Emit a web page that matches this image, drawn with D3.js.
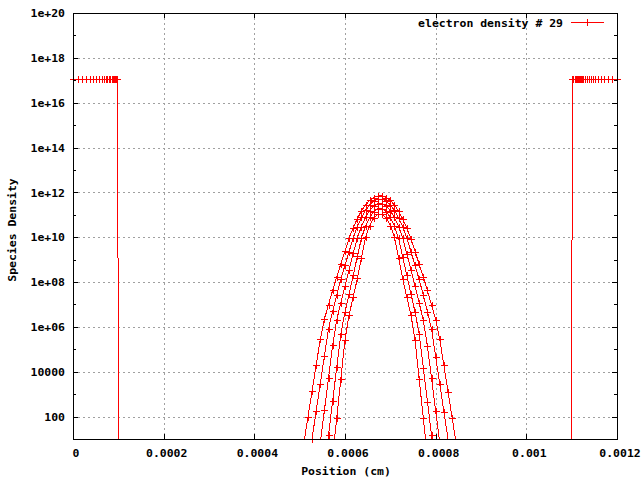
<!DOCTYPE html>
<html><head><meta charset="utf-8">
<script src="https://cdn.jsdelivr.net/npm/d3@7"></script>
<style>
html,body{margin:0;padding:0;background:#fff;}
svg{display:block;}
text{font-family:"DejaVu Sans Mono",monospace;font-weight:bold;font-size:10px;fill:#000;}
</style></head><body>
<svg id="chart" width="642" height="479"></svg>
<script>
// ---------------- data ----------------
const seriesName = "electron density # 29";
const xTicks = [0, 0.0002, 0.0004, 0.0006, 0.0008, 0.001, 0.0012];
const xTickLabels = ["0", "0.0002", "0.0004", "0.0006", "0.0008", "0.001", "0.0012"];
const yTicks = [1e2, 1e4, 1e6, 1e8, 1e10, 1e12, 1e14, 1e16, 1e18, 1e20];
const yTickLabels = ["100", "10000", "1e+06", "1e+08", "1e+10", "1e+12", "1e+14", "1e+16", "1e+18", "1e+20"];
const yMinorTicks = [1e3, 1e5, 1e7, 1e9, 1e11, 1e13, 1e15, 1e17, 1e19];

// left electrode region
const leftX = [0, 1.17e-5, 1.99e-5, 2.87e-5, 3.68e-5, 4.48e-5, 5.14e-5, 5.74e-5, 6.33e-5, 6.77e-5,
  7.21e-5, 7.57e-5, 7.94e-5, 8.23e-5, 8.54e-5, 8.76e-5, 8.98e-5, 9.15e-5, 9.31e-5, 9.44e-5,
  9.55e-5, 9.62e-5, 9.68e-5, 9.73e-5, 9.77e-5, 1.05e-4];
const leftV = [1.1e17, 1.1e17, 1.1e17, 1.1e17, 1.1e17, 1.1e17, 1.1e17, 1.1e17, 1.1e17, 1.1e17,
  1.1e17, 1.1e17, 1.1e17, 1.1e17, 1.1e17, 1.1e17, 1.1e17, 1.1e17, 1.1e17, 1.1e17,
  1.1e17, 1.1e17, 1.1e17, 1.1e17, 1.1e17, 1e-20];

// right electrode region
const rightX = [1.0982e-3, 1.1014e-3, 1.1040e-3, 1.1063e-3, 1.1085e-3, 1.1107e-3, 1.1129e-3, 1.1151e-3,
  1.1173e-3, 1.1195e-3, 1.1222e-3, 1.1257e-3, 1.1301e-3, 1.1338e-3, 1.1376e-3, 1.1420e-3,
  1.1464e-3, 1.1515e-3, 1.1581e-3, 1.1647e-3, 1.1720e-3, 1.1808e-3, 1.1896e-3, 1.2000e-3];
const rightV = [1e-20, 1.1e17, 1.1e17, 1.1e17, 1.1e17, 1.1e17, 1.1e17, 1.1e17,
  1.1e17, 1.1e17, 1.1e17, 1.1e17, 1.1e17, 1.1e17, 1.1e17, 1.1e17,
  1.1e17, 1.1e17, 1.1e17, 1.1e17, 1.1e17, 1.1e17, 1.1e17, 1.1e17];

// central mesh and the electron swarm profiles
const meshX = [5.0000e-4, 5.0909e-4, 5.1818e-4, 5.2727e-4, 5.3636e-4, 5.4545e-4, 5.5455e-4, 5.6364e-4,
  5.7273e-4, 5.8182e-4, 5.9091e-4, 6.0000e-4, 6.0909e-4, 6.1818e-4, 6.2727e-4, 6.3636e-4,
  6.4545e-4, 6.5455e-4, 6.6364e-4, 6.7273e-4, 6.8182e-4, 6.9091e-4, 7.0000e-4, 7.0909e-4,
  7.1818e-4, 7.2727e-4, 7.3636e-4, 7.4545e-4, 7.5455e-4, 7.6364e-4, 7.7273e-4, 7.8182e-4,
  7.9091e-4, 8.0000e-4, 8.0909e-4, 8.1818e-4, 8.2727e-4, 8.3636e-4, 8.4545e-4, 8.5455e-4];
const densityA = [0.44, 6.3, 91, 1.35e3, 1.95e4, 2.8e5, 2.2e6, 9.8e6, 4.3e7, 1.7e8, 6.5e8, 2.4e9,
  8.9e9, 2.7e10, 6.8e10, 1.5e11, 2.75e11, 4.4e11, 5.9e11, 6.9e11, 6.9e11, 5.9e11, 4.4e11, 2.75e11,
  1.45e11, 6.6e10, 2.6e10, 8.7e9, 2.3e9, 6.3e8, 1.7e8, 4.2e7, 9.5e6, 2.1e6, 2.75e5, 1.9e4, 1.3e3,
  89, 6.0, 0.42];
const densityB = [null, null, 0.60, 10.2, 174, 2.9e3, 4.9e4, 8.3e5, 4.9e6, 2.6e7, 1.35e8, 5.6e8,
  2.3e9, 9.5e9, 3.0e10, 7.6e10, 1.6e11, 2.8e11, 4.1e11, 4.9e11, 4.9e11, 4.1e11, 2.75e11, 1.6e11,
  7.4e10, 3.0e10, 9.3e9, 2.3e9, 5.5e8, 1.3e8, 2.6e7, 4.8e6, 7.9e5, 4.7e4, 2.75e3, 166, 9.8,
  0.58, null, null];
const densityC = [null, null, null, null, 0.25, 6.8, 190, 5.4e3, 1.5e5, 2.1e6, 1.2e7, 6.9e7,
  3.6e8, 1.9e9, 9.5e9, 3.0e10, 7.8e10, 1.55e11, 2.45e11, 3.1e11, 3.1e11, 2.45e11, 1.5e11, 7.6e10,
  3.0e10, 9.3e9, 1.8e9, 3.5e8, 6.8e7, 1.2e7, 2.0e6, 1.4e5, 5.0e3, 182, 6.5, 0.23,
  null, null, null, null];
const densityD = [null, null, null, null, null, null, 0.48, 15.5, 490, 1.6e4, 5.0e5, 4.6e6,
  3.0e7, 2.0e8, 1.4e9, 9.3e9, 3.2e10, 7.8e10, 1.4e11, 1.9e11, 1.9e11, 1.4e11, 7.8e10, 3.1e10,
  8.9e9, 1.35e9, 2.0e8, 3.0e7, 4.5e6, 4.8e5, 1.5e4, 470, 15, 0.46,
  null, null, null, null, null, null];
const densityE = [null, null, null, null, null, null, null, null, 1.66, 89, 4.9e3, 2.7e5,
  3.5e6, 2.2e7, 1.45e8, 1.2e9, 1.05e10, 3.3e10, 7.2e10, 1.07e11, 1.07e11, 7.2e10, 3.3e10, 1.0e10,
  1.2e9, 1.4e8, 2.1e7, 3.4e6, 2.6e5, 4.7e3, 85, 1.55,
  null, null, null, null, null, null, null, null];

// ---------------- drawing ----------------
const W = 642, H = 479;
const M = {left: 73, right: 617, top: 13, bottom: 439};
const RED = "#ff0000";
const x = d3.scaleLinear().domain([0, 0.0012]).range([M.left, M.right]);
const y = d3.scaleLog().domain([10, 1e20]).range([M.bottom, M.top]);

const svg = d3.select("#chart");
svg.append("rect").attr("width", W).attr("height", H).attr("fill", "#fff");
svg.append("defs").append("clipPath").attr("id", "plotclip")
  .append("rect").attr("x", M.left).attr("y", M.top)
  .attr("width", M.right - M.left).attr("height", M.bottom - M.top);

// grid
const grid = svg.append("g").attr("stroke", "#a0a0a0").attr("stroke-width", 1)
  .attr("stroke-dasharray", "2,3").attr("shape-rendering", "crispEdges");
grid.selectAll("line.gx").data(xTicks.filter(v => v > 0 && v < 0.0012)).enter().append("line")
  .attr("x1", d => Math.round(x(d)) + 0.5).attr("x2", d => Math.round(x(d)) + 0.5)
  .attr("y1", M.top).attr("y2", M.bottom);
grid.selectAll("line.gy").data(yTicks.filter(v => v < 1e20)).enter().append("line")
  .attr("y1", d => Math.round(y(d)) + 0.5).attr("y2", d => Math.round(y(d)) + 0.5)
  .attr("x1", M.left).attr("x2", M.right);

// series
const series = [
  {xs: leftX, vs: leftV},
  {xs: rightX, vs: rightV},
  {xs: meshX, vs: densityA},
  {xs: meshX, vs: densityB},
  {xs: meshX, vs: densityC},
  {xs: meshX, vs: densityD},
  {xs: meshX, vs: densityE}
].map(s => s.xs.map((xv, i) => ({x: xv, v: s.vs[i]})).filter(p => p.v != null));

const line = d3.line().x(p => x(p.x)).y(p => y(p.v));
const lines = svg.append("g").attr("clip-path", "url(#plotclip)");
lines.selectAll("path").data(series).enter().append("path")
  .attr("d", line).attr("fill", "none").attr("stroke", RED).attr("stroke-width", 1)
  .attr("shape-rendering", "crispEdges");

const plusPath = "M-3,0.5H4M0.5,-3V4";
const marks = svg.append("g").attr("shape-rendering", "crispEdges");
series.forEach(pts => {
  marks.append("g").selectAll("path")
    .data(pts.filter(p => p.v >= 10 && p.v <= 1e20)).enter().append("path")
    .attr("d", plusPath)
    .attr("transform", p => `translate(${Math.round(x(p.x)) - 0.5},${Math.round(y(p.v)) - 0.5})`)
    .attr("fill", "none").attr("stroke", RED).attr("stroke-width", 1);
});

// border
svg.append("rect").attr("x", M.left + 0.5).attr("y", M.top + 0.5)
  .attr("width", M.right - M.left).attr("height", M.bottom - M.top)
  .attr("fill", "none").attr("stroke", "#000").attr("stroke-width", 1)
  .attr("shape-rendering", "crispEdges");

function fitText(sel) {
  sel.each(function() {
    const t = d3.select(this);
    const s = t.text();
    if (s.length) t.attr("textLength", s.length * 6.9).attr("lengthAdjust", "spacingAndGlyphs");
  });
}

// axes
const gB = svg.append("g").attr("transform", `translate(0,${M.bottom})`).attr("shape-rendering", "crispEdges")
  .call(d3.axisBottom(x).tickValues(xTicks).tickFormat((d, i) => xTickLabels[i])
    .tickSizeInner(-5).tickSizeOuter(0).tickPadding(0));
gB.select(".domain").remove();
gB.selectAll("text").attr("y", 17.7).attr("dy", 0).attr("dx", 2.5).call(fitText);

const gT = svg.append("g").attr("transform", `translate(0,${M.top})`).attr("shape-rendering", "crispEdges")
  .call(d3.axisTop(x).tickValues(xTicks).tickFormat("").tickSizeInner(-5).tickSizeOuter(0));
gT.select(".domain").remove();

const gL = svg.append("g").attr("transform", `translate(${M.left},0)`).attr("shape-rendering", "crispEdges")
  .call(d3.axisLeft(y).tickValues(yTicks).tickFormat((d, i) => yTickLabels[i])
    .tickSizeInner(-5).tickSizeOuter(0).tickPadding(8));
gL.select(".domain").remove();
gL.selectAll("text").attr("dy", 3.7).call(fitText);

const gLm = svg.append("g").attr("transform", `translate(${M.left},0)`).attr("shape-rendering", "crispEdges")
  .call(d3.axisLeft(y).tickValues(yMinorTicks).tickFormat("").tickSizeInner(-3).tickSizeOuter(0));
gLm.select(".domain").remove();

const gR = svg.append("g").attr("transform", `translate(${M.right},0)`).attr("shape-rendering", "crispEdges")
  .call(d3.axisRight(y).tickValues(yTicks).tickFormat("").tickSizeInner(-5).tickSizeOuter(0));
gR.select(".domain").remove();
const gRm = svg.append("g").attr("transform", `translate(${M.right},0)`).attr("shape-rendering", "crispEdges")
  .call(d3.axisRight(y).tickValues(yMinorTicks).tickFormat("").tickSizeInner(-3).tickSizeOuter(0));
gRm.select(".domain").remove();

// axis titles
svg.append("text").attr("x", (M.left + M.right) / 2 + 1).attr("y", 475)
  .attr("text-anchor", "middle").text("Position (cm)").call(fitText);
svg.append("text").attr("transform", `translate(16,${(M.top + M.bottom) / 2 + 4}) rotate(-90)`)
  .attr("text-anchor", "middle").text("Species Density").call(fitText);

// legend
const leg = svg.append("g");
leg.append("text").attr("x", 563).attr("y", 27).attr("text-anchor", "end").text(seriesName).call(fitText);
leg.append("line").attr("x1", 571).attr("x2", 604).attr("y1", 22.5).attr("y2", 22.5)
  .attr("stroke", RED).attr("shape-rendering", "crispEdges");
leg.append("path").attr("d", plusPath).attr("transform", "translate(587,22)")
  .attr("fill", "none").attr("stroke", RED).attr("shape-rendering", "crispEdges");
</script>
</body></html>
